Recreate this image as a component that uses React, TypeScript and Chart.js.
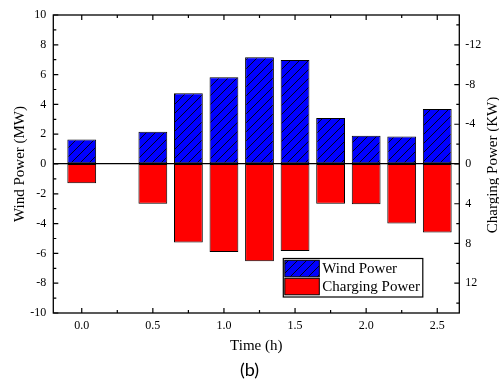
import React, { useEffect, useRef } from 'react';
import { Chart, registerables } from 'chart.js';

Chart.register(...registerables);

// ---- data ----
const times = [0.0, 0.5, 0.75, 1.0, 1.25, 1.5, 1.75, 2.0, 2.25, 2.5];
const windPower = [1.64, 2.17, 4.74, 5.82, 7.16, 6.98, 3.09, 1.9, 1.84, 3.69];
const chargingPower = [1.95, 4.0, 7.9, 8.85, 9.8, 8.75, 4.0, 4.05, 6.0, 6.9];

const xTickValues = [0, 0.5, 1.0, 1.5, 2.0, 2.5];
const xMinorValues = [0.25, 0.75, 1.25, 1.75, 2.25];
const windTickValues = [-10, -8, -6, -4, -2, 0, 2, 4, 6, 8, 10];
const windMinorValues = [-9, -7, -5, -3, -1, 1, 3, 5, 7, 9];
const chargingTickValues = [-12, -8, -4, 0, 4, 8, 12];
const chargingMinorValues = [-14, -10, -6, -2, 2, 6, 10, 14];

const seriesLabels = ['Wind Power', 'Charging Power'];
const xTitle = 'Time (h)';
const leftTitle = 'Wind Power (MW)';
const rightTitle = 'Charging Power (KW)';
const caption = '(b)';

const SERIF = '"Liberation Serif", "Times New Roman", serif';

function makeHatch(): CanvasPattern | string {
  const s = 9;
  const c = document.createElement('canvas');
  c.width = s;
  c.height = s;
  const g = c.getContext('2d');
  if (!g) return '#0000ff';
  g.fillStyle = '#0000ff';
  g.fillRect(0, 0, s, s);
  g.strokeStyle = '#000';
  g.lineWidth = 0.9;
  g.beginPath();
  g.moveTo(-s, s); g.lineTo(s, -s);
  g.moveTo(0, s); g.lineTo(s, 0);
  g.moveTo(0, 2 * s); g.lineTo(2 * s, 0);
  g.stroke();
  return g.createPattern(c, 'repeat') || '#0000ff';
}

const framePlugin = {
  id: 'frameTicks',
  afterDatasetsDraw(chart: any) {
    const { ctx, chartArea } = chart;
    const { left, right, top, bottom } = chartArea;
    const xs = chart.scales.x;
    const ys = chart.scales.y;
    const y1 = chart.scales.y1;
    ctx.save();
    ctx.strokeStyle = '#000';
    ctx.lineWidth = 1.3;
    ctx.strokeRect(left, top, right - left, bottom - top);
    ctx.lineWidth = 1.2;
    ctx.beginPath();
    const major = 5, minor = 3;
    xTickValues.forEach((v) => {
      const p = xs.getPixelForValue(v);
      ctx.moveTo(p, bottom); ctx.lineTo(p, bottom - major);
      ctx.moveTo(p, top); ctx.lineTo(p, top + major);
    });
    xMinorValues.forEach((v) => {
      const p = xs.getPixelForValue(v);
      ctx.moveTo(p, bottom); ctx.lineTo(p, bottom - minor);
      ctx.moveTo(p, top); ctx.lineTo(p, top + minor);
    });
    windTickValues.forEach((v) => {
      const p = ys.getPixelForValue(v);
      ctx.moveTo(left, p); ctx.lineTo(left + major, p);
    });
    windMinorValues.forEach((v) => {
      const p = ys.getPixelForValue(v);
      ctx.moveTo(left, p); ctx.lineTo(left + minor, p);
    });
    chargingTickValues.forEach((v) => {
      const p = y1.getPixelForValue(v);
      ctx.moveTo(right, p); ctx.lineTo(right - major, p);
    });
    chargingMinorValues.forEach((v) => {
      const p = y1.getPixelForValue(v);
      ctx.moveTo(right, p); ctx.lineTo(right - minor, p);
    });
    ctx.stroke();
    ctx.restore();
  },
};

const legendPlugin = {
  id: 'boxLegend',
  afterDraw(chart: any) {
    const { ctx, chartArea } = chart;
    const w = 139.5;
    const h = 38.5;
    const r = chartArea.right - 36.5;
    const b = chartArea.bottom - 16;
    const l = r - w;
    const t = b - h;
    ctx.save();
    ctx.fillStyle = '#fff';
    ctx.fillRect(l, t, w, h);
    ctx.strokeStyle = '#000';
    ctx.lineWidth = 1.2;
    ctx.strokeRect(l, t, w, h);
    chart.data.datasets.forEach((ds: any, i: number) => {
      const y = t + 1.8 + i * 18;
      ctx.fillStyle = ds.backgroundColor;
      ctx.fillRect(l + 1.5, y, 34.5, 16.5);
      ctx.lineWidth = 1;
      ctx.strokeStyle = '#000';
      ctx.strokeRect(l + 1.5, y, 34.5, 16.5);
      ctx.fillStyle = '#000';
      ctx.font = `15px ${SERIF}`;
      ctx.textAlign = 'left';
      ctx.textBaseline = 'middle';
      ctx.fillText(ds.label, l + 39, y + 8.5);
    });
    ctx.restore();
  },
};

const rightTitlePlugin = {
  id: 'rightTitle',
  afterDraw(chart: any) {
    const { ctx, chartArea } = chart;
    ctx.save();
    ctx.translate(chartArea.right + 34, (chartArea.top + chartArea.bottom) / 2 + 1);
    ctx.rotate(-Math.PI / 2);
    ctx.fillStyle = '#000';
    ctx.font = `15px ${SERIF}`;
    ctx.textAlign = 'center';
    ctx.textBaseline = 'middle';
    ctx.fillText(rightTitle, 0, 0);
    ctx.restore();
  },
};

export default function App() {
  const canvasRef = useRef<HTMLCanvasElement | null>(null);

  useEffect(() => {
    if (!canvasRef.current) return;
    const hatch = makeHatch();
    const tickFont = { family: SERIF, size: 12 };
    const chart = new Chart(canvasRef.current, {
      type: 'bar',
      data: {
        datasets: [
          {
            label: seriesLabels[0],
            data: times.map((t, i) => ({ x: t, y: windPower[i] })),
            yAxisID: 'y',
            backgroundColor: hatch as any,
            borderColor: '#000',
            borderWidth: 1,
            borderSkipped: false,
            grouped: false,
            barPercentage: 0.81,
            categoryPercentage: 1,
          },
          {
            label: seriesLabels[1],
            data: times.map((t, i) => ({ x: t, y: chargingPower[i] })),
            yAxisID: 'y1',
            backgroundColor: '#ff0000',
            borderColor: '#000',
            borderWidth: 1,
            borderSkipped: false,
            grouped: false,
            barPercentage: 0.81,
            categoryPercentage: 1,
          },
        ] as any,
      },
      options: {
        animation: false,
        responsive: false,
        devicePixelRatio: 1,
        layout: { padding: { top: 15, left: 0, right: 0, bottom: 0 } },
        plugins: {
          legend: { display: false },
          tooltip: { enabled: false },
          title: {
            display: true,
            text: caption,
            position: 'bottom',
            color: '#000',
            font: { family: 'Lato, "Open Sans", sans-serif', size: 18, weight: 'normal' },
            padding: { top: 0, bottom: 4 },
          },
        },
        scales: {
          x: {
            type: 'linear',
            min: -0.2,
            max: 2.655,
            offset: false,
            grid: { display: false, drawTicks: false, offset: false },
            border: { display: false },
            afterBuildTicks: (s: any) => {
              s.ticks = xTickValues.map((v) => ({ value: v }));
            },
            afterFit: (s: any) => {
              s.height = 46.4;
            },
            ticks: {
              autoSkip: false,
              maxRotation: 0,
              padding: 6,
              color: '#000',
              font: tickFont,
              callback: (v: any) => Number(v).toFixed(1),
            },
            title: {
              display: true,
              text: xTitle,
              color: '#000',
              font: { family: SERIF, size: 15 },
              padding: { top: 0, bottom: 4.4 },
            },
          },
          y: {
            type: 'linear',
            position: 'left',
            min: -10,
            max: 10,
            border: { display: false },
            grid: {
              drawTicks: false,
              drawOnChartArea: true,
              lineWidth: 1.3,
              color: (c: any) => (c.tick && c.tick.value === 0 ? '#000' : 'rgba(0,0,0,0)'),
            },
            afterBuildTicks: (s: any) => {
              s.ticks = windTickValues.map((v) => ({ value: v }));
            },
            afterFit: (s: any) => {
              s.width = 53.3;
            },
            ticks: { autoSkip: false, padding: 7, color: '#000', font: tickFont },
            title: {
              display: true,
              text: leftTitle,
              color: '#000',
              font: { family: SERIF, size: 15 },
              padding: { top: 11, bottom: 0 },
            },
          },
          y1: {
            type: 'linear',
            position: 'right',
            min: -15,
            max: 15,
            reverse: true,
            border: { display: false },
            grid: { display: false, drawTicks: false },
            afterBuildTicks: (s: any) => {
              s.ticks = chargingTickValues.map((v) => ({ value: v }));
            },
            afterFit: (s: any) => {
              s.width = 39.7;
            },
            ticks: { autoSkip: false, padding: 6, color: '#000', font: tickFont },
          },
        },
      } as any,
      plugins: [framePlugin, legendPlugin, rightTitlePlugin],
    });
    return () => chart.destroy();
  }, []);

  return (
    <div style={{ position: 'absolute', left: 0, top: 0, width: 499, height: 385, background: '#fff' }}>
      <canvas ref={canvasRef} width={499} height={385} style={{ display: 'block' }} />
    </div>
  );
}
